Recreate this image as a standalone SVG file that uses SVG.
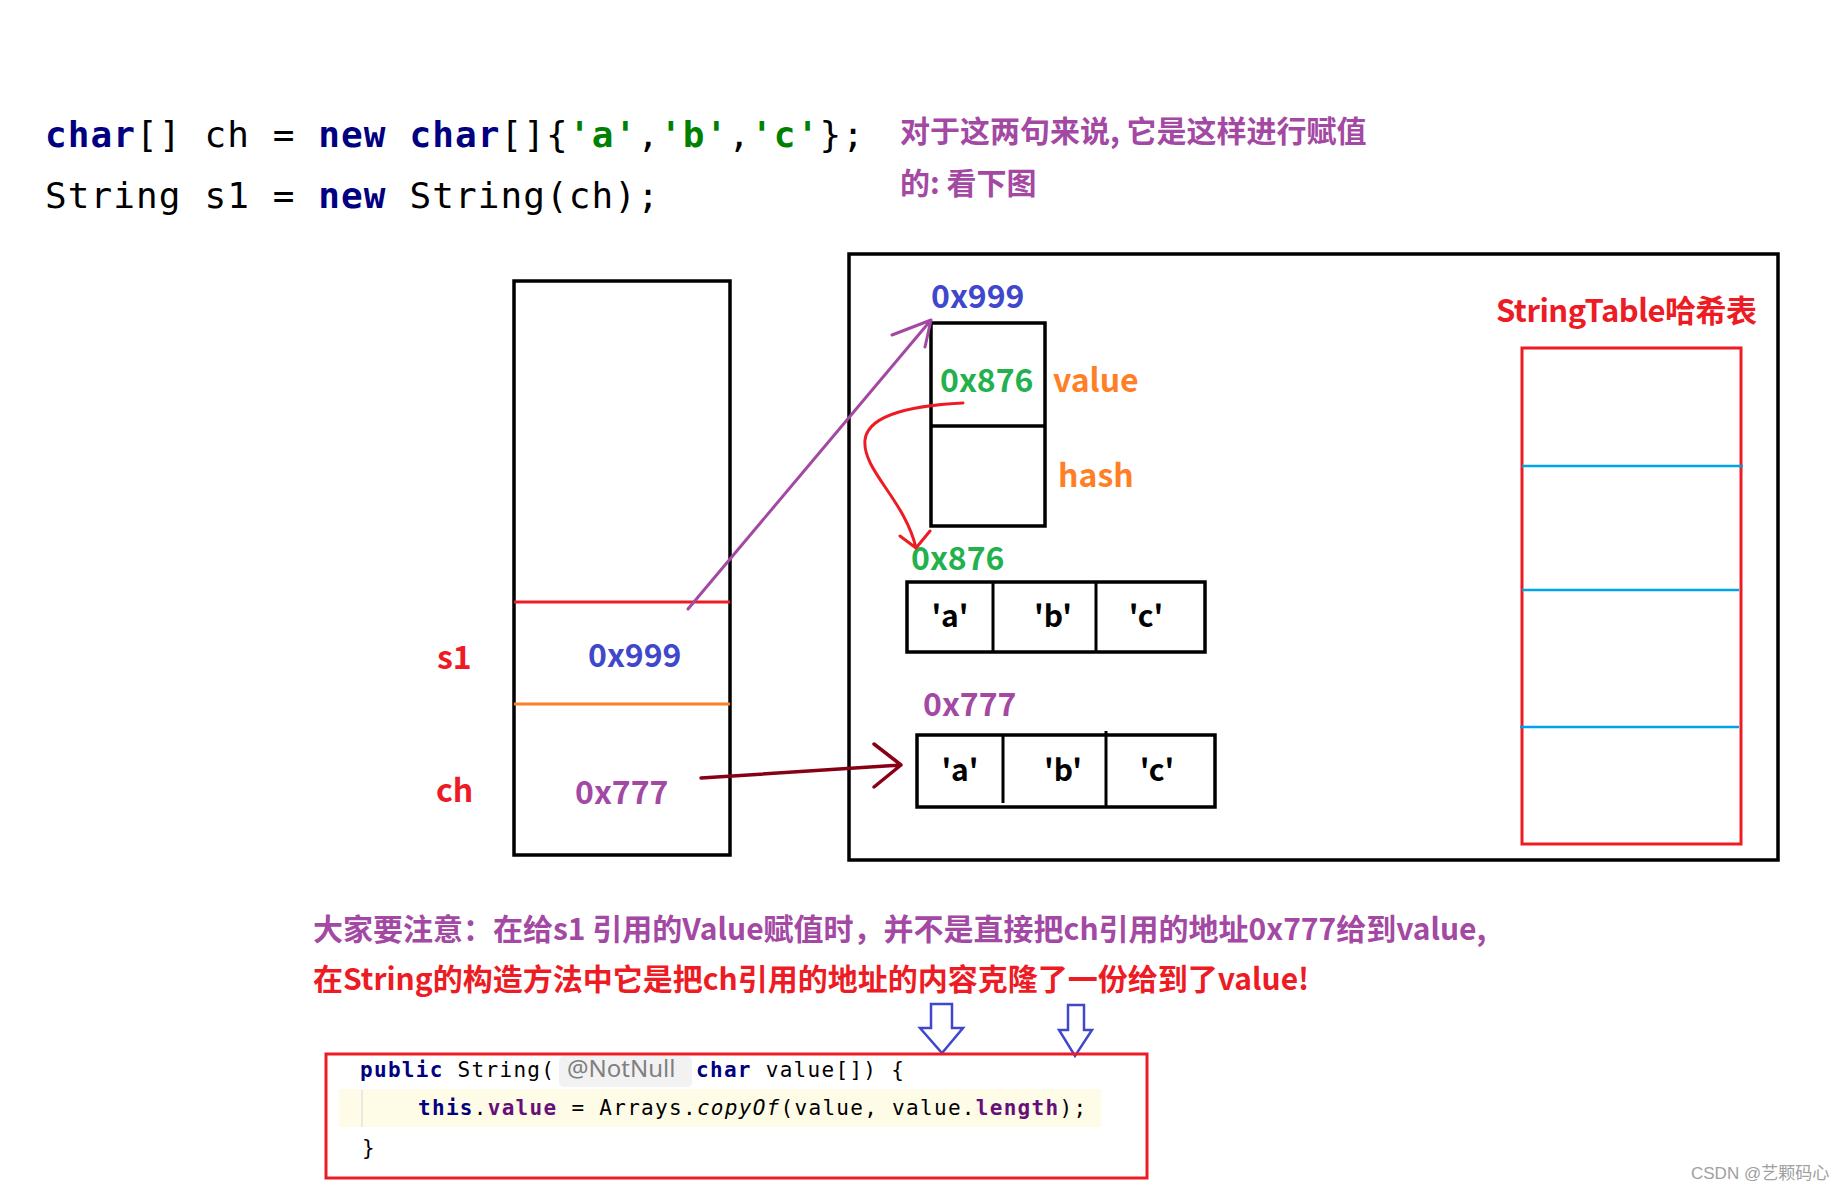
<svg xmlns="http://www.w3.org/2000/svg" width="1843" height="1190" viewBox="0 0 1843 1190">
<style>
.code{font-family:"DejaVu Sans Mono","Liberation Mono",monospace;font-size:36px;letter-spacing:1.1px;fill:#000}
.kw{fill:#000080;font-weight:bold}
.str{fill:#008000;font-weight:bold}
.cjk{font-family:"Noto Sans CJK SC","Noto Sans",sans-serif;font-weight:bold}
.lbl{font-family:"Noto Sans CJK SC","Noto Sans",sans-serif;font-weight:bold;font-size:32px}
.arr{font-family:"Noto Sans CJK SC","Noto Sans",sans-serif;font-weight:bold;font-size:30px;fill:#000;text-anchor:middle}
.box{fill:none;stroke:#000;stroke-width:3.5}
.src{font-family:"DejaVu Sans Mono","Liberation Mono",monospace;font-size:21px;letter-spacing:1.3px;fill:#000}
.ck{fill:#000080;font-weight:bold}
.cf{fill:#660e7a;font-weight:bold}
</style>
<rect width="1843" height="1190" fill="#fff"/>

<g id="code-top">
<text class="code" x="45" y="147" xml:space="preserve"><tspan class="kw">char</tspan>[] ch = <tspan class="kw">new</tspan> <tspan class="kw">char</tspan>[]{<tspan class="str">'a'</tspan>,<tspan class="str">'b'</tspan>,<tspan class="str">'c'</tspan>};</text>
<text class="code" x="45" y="208" xml:space="preserve">String s1 = <tspan class="kw">new</tspan> String(ch);</text>
</g>

<g id="note-top" class="cjk" fill="#a349a4" font-size="30">
<text x="900" y="142">对于这两句来说, 它是这样进行赋值</text>
<text x="900" y="194">的: 看下图</text>
</g>

<g id="stack">
<rect class="box" x="514" y="281" width="216" height="574"/>
<line x1="514" y1="602" x2="730" y2="602" stroke="#ed1c24" stroke-width="3"/>
<line x1="514" y1="704" x2="730" y2="704" stroke="#ff7f27" stroke-width="3"/>
<text class="lbl" x="437" y="669" fill="#ed1c24">s1</text>
<text class="lbl" x="588" y="667" fill="#3f48cc">0x999</text>
<text class="lbl" x="436" y="802" fill="#ed1c24">ch</text>
<text class="lbl" x="575" y="804" fill="#a349a4">0x777</text>
</g>

<g id="heap">
<rect class="box" x="849" y="254" width="929" height="606"/>
</g>

<g id="string-object">
<text class="lbl" x="931" y="308" fill="#3f48cc">0x999</text>
<rect class="box" x="931" y="323" width="114" height="203"/>
<line x1="931" y1="426" x2="1045" y2="426" stroke="#000" stroke-width="3.5"/>
<text class="lbl" x="940" y="392" fill="#22b14c">0x876</text>
<text class="lbl" x="1053" y="392" fill="#ff7f27">value</text>
<text class="lbl" x="1058" y="487" fill="#ff7f27">hash</text>
</g>

<g id="array-876">
<text class="lbl" x="911" y="570" fill="#22b14c">0x876</text>
<rect class="box" x="907" y="582" width="298" height="70"/>
<line x1="993" y1="582" x2="993" y2="652" stroke="#000" stroke-width="3"/>
<line x1="1096" y1="582" x2="1096" y2="652" stroke="#000" stroke-width="3"/>
<text class="arr" x="950" y="627">'a'</text>
<text class="arr" x="1053" y="627">'b'</text>
<text class="arr" x="1146" y="627">'c'</text>
</g>

<g id="array-777">
<text class="lbl" x="923" y="716" fill="#a349a4">0x777</text>
<rect class="box" x="917" y="735" width="298" height="72"/>
<line x1="1003" y1="735" x2="1003" y2="803" stroke="#000" stroke-width="3"/>
<line x1="1106" y1="731" x2="1106" y2="807" stroke="#000" stroke-width="3"/>
<text class="arr" x="960" y="781">'a'</text>
<text class="arr" x="1063" y="781">'b'</text>
<text class="arr" x="1157" y="781">'c'</text>
</g>

<g id="string-table">
<text class="cjk" x="1496" y="322" font-size="31" fill="#ed1c24" textLength="261">StringTable哈希表</text>
<rect x="1522" y="348" width="219" height="496" fill="none" stroke="#ed1c24" stroke-width="3"/>
<line x1="1522" y1="466" x2="1743" y2="466" stroke="#00a2e8" stroke-width="2.5"/>
<line x1="1522" y1="590" x2="1739" y2="590" stroke="#00a2e8" stroke-width="2.5"/>
<line x1="1520" y1="727" x2="1739" y2="727" stroke="#00a2e8" stroke-width="2.5"/>
</g>

<g id="connectors" fill="none" stroke-linecap="round" stroke-linejoin="round">
<path d="M688,609 L931,320 M892,335 L931,320 L925,347" stroke="#a349a4" stroke-width="3"/>
<path d="M963,403 C920,405 868,413 865,440 C862,470 905,500 916,548 M900,536 L916,548 L930,531" stroke="#ed1c24" stroke-width="3"/>
<path d="M701,778 L901,765 M874,744 L901,765 L874,787" stroke="#880015" stroke-width="3.5"/>
</g>

<g id="note-bottom" class="cjk" font-size="30">
<text x="313" y="940" fill="#a349a4">大家要注意：在给s1 引用的Value赋值时，并不是直接把ch引用的地址0x777给到value,</text>
<text x="313" y="990" fill="#ed1c24">在String的构造方法中它是把ch引用的地址的内容克隆了一份给到了value!</text>
</g>

<g id="hint-arrows" fill="#fff" stroke="#3f48cc" stroke-width="2.5" stroke-linejoin="miter">
<polygon points="931,1004 952,1004 952,1028 963,1028 942,1053 920,1028 931,1028"/>
<polygon points="1068,1005 1084,1005 1084,1030 1092,1030 1075,1056 1059,1030 1068,1030"/>
</g>

<g id="source-code">
<rect x="339" y="1089" width="762" height="38" fill="#fefbe7"/>
<line x1="362" y1="1090" x2="362" y2="1127" stroke="#e2e2e2" stroke-width="1.5"/>
<rect x="559" y="1056" width="133" height="31" rx="5" fill="#f2f2f2"/>
<text class="src" x="360" y="1077" xml:space="preserve"><tspan class="ck">public</tspan> String(</text>
<text x="567" y="1077" font-family="'Noto Sans','Liberation Sans',sans-serif" font-size="24" fill="#808080">@NotNull</text>
<text class="src" x="696" y="1077" xml:space="preserve"><tspan class="ck">char</tspan> value[]) {</text>
<text class="src" x="418" y="1115" xml:space="preserve"><tspan class="ck">this</tspan>.<tspan class="cf">value</tspan> = Arrays.<tspan font-style="italic">copyOf</tspan>(value, value.<tspan class="cf">length</tspan>);</text>
<text class="src" x="362" y="1155">}</text>
<rect x="326" y="1054" width="821" height="124" fill="none" stroke="#ed1c24" stroke-width="3"/>
</g>

<text x="1691" y="1179" font-family="'Liberation Sans','Noto Sans CJK SC',sans-serif" font-size="17" fill="#a0a0a0">CSDN @艺颗码心</text>
</svg>
